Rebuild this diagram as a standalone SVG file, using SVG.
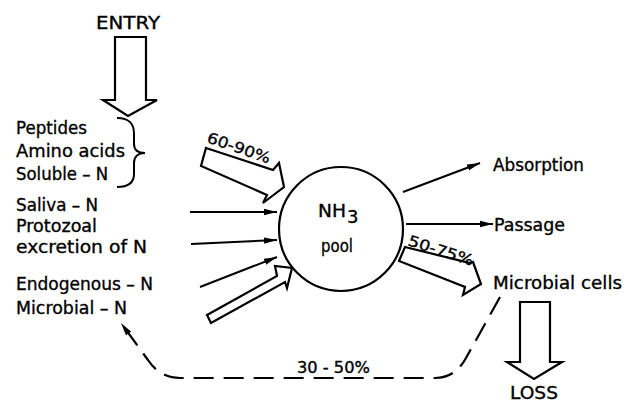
<svg xmlns="http://www.w3.org/2000/svg" width="632" height="403" viewBox="0 0 632 403">
<style>
text{font-family:"DejaVu Sans","Liberation Sans",Arial,sans-serif;font-size:18px;fill:#000;stroke:#000;stroke-width:0.35}
.pct{font-size:15px}
.hollow{fill:#fff;stroke:#000;stroke-width:2.2;stroke-linejoin:miter}
.ln{fill:none;stroke:#000;stroke-width:2}
.dash{fill:none;stroke:#000;stroke-width:2.2;stroke-dasharray:20 10}
</style>
<defs>
<marker id="ah" markerUnits="userSpaceOnUse" markerWidth="14" markerHeight="8" refX="13" refY="4" orient="auto">
<path d="M0,0.8 L13,4 L0,7.2 Z" fill="#000"/>
</marker>
</defs>
<rect width="632" height="403" fill="#fff"/>

<g id="entry">
<text x="96" y="29" textLength="64" lengthAdjust="spacingAndGlyphs">ENTRY</text>
<path class="hollow" d="M115,37 L146,37 L146,100 L157,100 L128,116 L103,100 L115,100 Z"/>
</g>

<g id="sources-top">
<text x="16" y="134" textLength="71" lengthAdjust="spacingAndGlyphs">Peptides</text>
<text x="16" y="157" textLength="109" lengthAdjust="spacingAndGlyphs">Amino acids</text>
<text x="16" y="180" textLength="92" lengthAdjust="spacingAndGlyphs">Soluble – N</text>
<path class="ln" d="M117,118 C130,118 134,124 134,134 L134,144 C134,150 138,153 145,153 C138,153 134,157 134,163 L134,174 C134,183 128,187 117,187"/>
</g>

<g id="sources-mid">
<text x="16" y="211" textLength="82" lengthAdjust="spacingAndGlyphs">Saliva – N</text>
<text x="16" y="232" textLength="81" lengthAdjust="spacingAndGlyphs">Protozoal</text>
<text x="16" y="253" textLength="131" lengthAdjust="spacingAndGlyphs">excretion of N</text>
</g>

<g id="sources-bottom">
<text x="16" y="290" textLength="137" lengthAdjust="spacingAndGlyphs">Endogenous – N</text>
<text x="16" y="314" textLength="111" lengthAdjust="spacingAndGlyphs">Microbial – N</text>
</g>

<g id="pool">
<circle cx="341" cy="229" r="62" fill="#fff" stroke="#000" stroke-width="2.2"/>
<text x="318" y="217" font-size="17" textLength="28" lengthAdjust="spacingAndGlyphs">NH</text>
<text x="347" y="223" font-size="15">3</text>
<text x="321" y="252" font-size="17" textLength="32" lengthAdjust="spacingAndGlyphs">pool</text>
</g>

<g id="outputs">
<text x="493" y="171" textLength="91" lengthAdjust="spacingAndGlyphs">Absorption</text>
<text x="494" y="231" textLength="71" lengthAdjust="spacingAndGlyphs">Passage</text>
<text x="493" y="289" textLength="129" lengthAdjust="spacingAndGlyphs">Microbial cells</text>
</g>

<g id="loss">
<path class="hollow" d="M520,302 L550,302 L550,362 L562,362 L534,379 L507,362 L520,362 Z"/>
<text x="510" y="399" font-size="17" textLength="48" lengthAdjust="spacingAndGlyphs">LOSS</text>
</g>

<g id="connectors">
<path class="hollow" d="M206,148 L273,170 L279,163 L284,187 L263,203 L267,195 L201,166 Z"/>
<text class="pct" transform="translate(206,142) rotate(19)" textLength="66" lengthAdjust="spacingAndGlyphs">60-90%</text>
<line class="ln" x1="190" y1="212" x2="277" y2="212" marker-end="url(#ah)"/>
<line class="ln" x1="191" y1="244" x2="277" y2="240" marker-end="url(#ah)"/>
<line class="ln" x1="200" y1="287" x2="277" y2="257" marker-end="url(#ah)"/>
<path class="hollow" d="M207,315 L277,276 L275,266 L292,268 L287,288 L285,282 L211,323 Z"/>
<line class="ln" x1="403" y1="192" x2="480" y2="163" marker-end="url(#ah)"/>
<line class="ln" x1="406" y1="224" x2="493" y2="224" marker-end="url(#ah)"/>
<path class="hollow" d="M405,247 L470,263 L473,262 L481,284 L463,295 L465,287 L399,261 Z"/>
<text class="pct" transform="translate(407,245) rotate(18)" textLength="68" lengthAdjust="spacingAndGlyphs">50-75%</text>
<path class="dash" d="M500,297 L466,358 Q455,378 435,378 L180,378 Q160,378 148,360 L121,323" marker-end="url(#ah)"/>
<text class="pct" x="297" y="373" textLength="73" lengthAdjust="spacingAndGlyphs">30 - 50%</text>
</g>
</svg>
